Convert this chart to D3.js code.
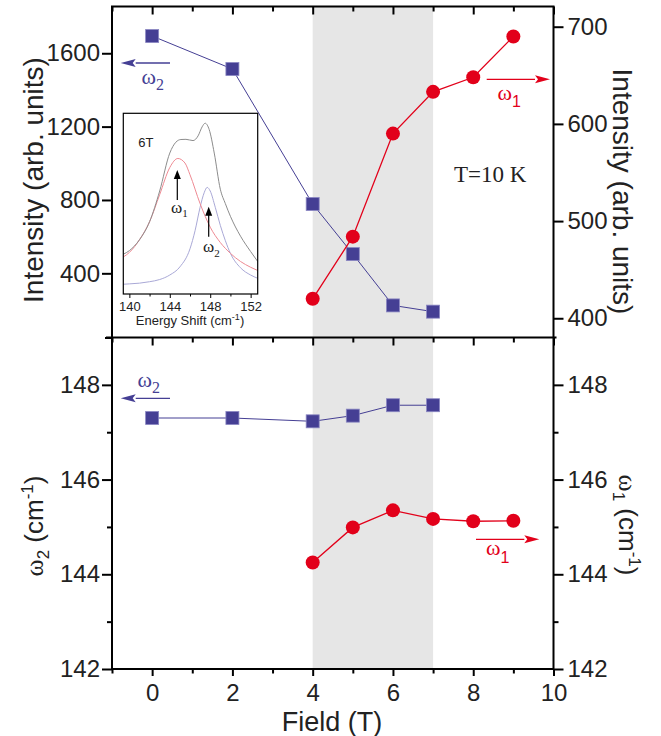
<!DOCTYPE html>
<html>
<head>
<meta charset="utf-8">
<script src="https://cdn.jsdelivr.net/npm/d3@7"></script>
<style>
  html, body { margin: 0; padding: 0; background: #fff; }
  svg { display: block; }
</style>
</head>
<body>
<div id="chart"></div>
<script>
// ---- data ----
const w2Field = [0, 2, 4, 5, 6, 7];
const w2Intensity = [1694, 1514, 778, 505, 225, 191];
const w1Field = [4, 5, 6, 7, 8, 9];
const w1Intensity = [420, 484, 590, 633, 648, 690];
const w2Shift = [147.30, 147.30, 147.23, 147.35, 147.57, 147.57];
const w1Shift = [144.25, 144.99, 145.35, 145.17, 145.12, 145.13];
const shadeRange = [4, 7];

const fieldTicks = [0, 2, 4, 6, 8, 10];
const fieldMinor = [-1, 1, 3, 5, 7, 9];
const intensityLeftTicks = [400, 800, 1200, 1600];
const intensityRightTicks = [400, 500, 600, 700];
const shiftTicks = [142, 144, 146, 148];
const shiftMinor = [143, 145, 147, 149];

// inset: 6 T spectrum (relative height, %)
const insetTicks = [140, 144, 148, 152];
const insetMinor = [142, 146, 150];
const totalX = [139.4, 140, 141, 142, 143, 144, 144.6, 145.1, 145.6, 146.3, 146.8, 147.2, 147.5, 147.9, 148.4, 149, 149.5, 150, 151, 152, 152.7];
const totalY = [22, 24, 30, 40, 57, 78, 84, 85.5, 85.6, 84.9, 87.5, 92.5, 94.5, 91, 78, 58, 50, 43, 32, 23.5, 18];
const fit1X = [139.4, 140, 141, 142, 143, 144, 144.8, 145.5, 146, 147, 148, 149, 150, 151, 152, 152.7];
const fit1Y = [20.5, 23, 30, 40, 55, 70, 75, 72.5, 66, 50, 37, 28.5, 22.5, 18, 14.8, 13];
const fit2X = [139.4, 140, 141, 142, 143, 144, 145, 146, 146.5, 147, 147.4, 147.7, 148, 148.5, 149, 149.5, 150, 151, 152, 152.7];
const fit2Y = [5.4, 5.6, 6, 6.8, 8, 10.5, 15, 25, 35, 48, 56, 59, 57, 48, 38, 29.5, 22.5, 14.5, 10.5, 8.7];

// ---- layout ----
const W = 661, H = 736;
const L = 112, R = 553.5, T = 6.5, M = 337.5, B = 669;
const FONT = '"Liberation Sans", Arial, sans-serif';
const SERIF = '"Liberation Serif", "Times New Roman", serif';
const BLUE = '#453f94';
const RED = '#e2001a';
const fmt = d3.format('d');

const svg = d3.select('#chart').append('svg')
  .attr('width', W)
  .attr('height', H);

const x = d3.scaleLinear().domain([-1, 10]).range([L, R]);
const yTopL = d3.scaleLinear().domain([50, 1855]).range([M, T]);
const yTopR = d3.scaleLinear().domain([380.2, 720.8]).range([M, T]);
const yBot = d3.scaleLinear().domain([142, 149]).range([B, M]);

// shaded field range
svg.append('rect')
  .attr('x', x(shadeRange[0]))
  .attr('y', T)
  .attr('width', x(shadeRange[1]) - x(shadeRange[0]))
  .attr('height', B - T)
  .attr('fill', '#e6e6e6');

function styleAxis(g, size) {
  g.select('.domain').remove();
  g.selectAll('.tick line').attr('stroke', '#000').attr('stroke-width', 2);
  g.selectAll('text')
    .attr('font-size', size)
    .attr('font-family', FONT)
    .attr('fill', '#222');
}

function addAxis(axis, tx, ty, size) {
  const g = svg.append('g').attr('transform', `translate(${tx},${ty})`).call(axis);
  styleAxis(g, size || 24);
  return g;
}

// top edge and middle edge ticks (inward / into bottom panel)
[T, M].forEach(yy => {
  addAxis(d3.axisBottom(x).tickValues(fieldTicks).tickSize(8).tickFormat(''), 0, yy);
  addAxis(d3.axisBottom(x).tickValues(fieldMinor).tickSize(5).tickFormat(''), 0, yy);
});

// bottom x axis
addAxis(d3.axisBottom(x).tickValues(fieldTicks).tickSize(7).tickPadding(8).tickFormat(fmt), 0, B);
addAxis(d3.axisBottom(x).tickValues(fieldMinor).tickSize(4.5).tickFormat(''), 0, B);

// top panel y axes
addAxis(d3.axisLeft(yTopL).tickValues(intensityLeftTicks).tickSize(10).tickPadding(2).tickFormat(fmt), L, 0);
addAxis(d3.axisLeft(yTopL).tickValues([50]).tickSize(7).tickFormat(''), L, 0);
addAxis(d3.axisRight(yTopR).tickValues(intensityRightTicks).tickSize(10).tickPadding(4).tickFormat(fmt), R, 0);

// bottom panel y axes
addAxis(d3.axisLeft(yBot).tickValues(shiftTicks).tickSize(10).tickPadding(2).tickFormat(fmt), L, 0);
addAxis(d3.axisLeft(yBot).tickValues(shiftMinor).tickSize(5).tickFormat(''), L, 0);
addAxis(d3.axisRight(yBot).tickValues(shiftTicks).tickSize(10).tickPadding(4).tickFormat(fmt), R, 0);
addAxis(d3.axisRight(yBot).tickValues(shiftMinor.slice(0, 3)).tickSize(5).tickFormat(''), R, 0);

// frames
svg.append('rect')
  .attr('x', L).attr('y', T)
  .attr('width', R - L).attr('height', B - T)
  .attr('fill', 'none').attr('stroke', '#000').attr('stroke-width', 2);
svg.append('line')
  .attr('x1', L - 6).attr('x2', R + 3)
  .attr('y1', M).attr('y2', M)
  .attr('stroke', '#000').attr('stroke-width', 2);

// ---- series ----
function drawSeries(xs, ys, yScale, color, shape, lw) {
  const pts = xs.map((f, i) => [x(f), yScale(ys[i])]);
  svg.append('path')
    .attr('d', d3.line()(pts))
    .attr('fill', 'none')
    .attr('stroke', color)
    .attr('stroke-width', lw);
  if (shape === 'square') {
    svg.selectAll(null).data(pts).enter().append('rect')
      .attr('x', d => d[0] - 6.5)
      .attr('y', d => d[1] - 6.5)
      .attr('width', 13).attr('height', 13)
      .attr('fill', color)
      .attr('stroke', '#8a87c2').attr('stroke-width', 0.8);
  } else {
    svg.selectAll(null).data(pts).enter().append('circle')
      .attr('cx', d => d[0]).attr('cy', d => d[1])
      .attr('r', 7)
      .attr('fill', color);
  }
}

drawSeries(w2Field, w2Intensity, yTopL, BLUE, 'square', 1);
drawSeries(w1Field, w1Intensity, yTopR, RED, 'circle', 1.3);
drawSeries(w2Field, w2Shift, yBot, BLUE, 'square', 1);
drawSeries(w1Field, w1Shift, yBot, RED, 'circle', 1.3);

// ---- annotations ----
function arrowH(x1, x2, yy, color) {
  const dir = x2 > x1 ? 1 : -1;
  const base = x2 - dir * 15;
  svg.append('line')
    .attr('x1', x1).attr('x2', base).attr('y1', yy).attr('y2', yy)
    .attr('stroke', color).attr('stroke-width', 1.3);
  svg.append('path')
    .attr('d', `M${x2},${yy}L${base},${yy - 4}L${base + dir * 3},${yy}L${base},${yy + 4}Z`)
    .attr('fill', color);
}

function arrowUp(g, xx, y1, y2) {
  g.append('line')
    .attr('x1', xx).attr('x2', xx).attr('y1', y1).attr('y2', y2 + 7)
    .attr('stroke', '#000').attr('stroke-width', 1.2);
  g.append('path')
    .attr('d', `M${xx},${y2}L${xx - 3.5},${y2 + 9}L${xx + 3.5},${y2 + 9}Z`)
    .attr('fill', '#000');
}

function omega(g, px, py, sub, color, size, subSize, subDy, subFont) {
  const t = g.append('text')
    .attr('x', px).attr('y', py)
    .attr('fill', color)
    .attr('font-family', SERIF)
    .attr('font-size', size);
  t.append('tspan').text('ω');
  t.append('tspan')
    .attr('font-size', subSize)
    .attr('font-family', subFont || SERIF)
    .attr('dy', subDy)
    .text(sub);
  return t;
}

arrowH(170, 120.7, 63, BLUE);
omega(svg, 141.5, 83.5, '2', BLUE, 22, 16, 6);
arrowH(486.7, 550, 79.3, RED);
omega(svg, 497.5, 100, '1', RED, 22, 16, 7, FONT);

arrowH(170, 120.7, 398.3, BLUE);
omega(svg, 137.5, 387, '2', BLUE, 22, 16, 6);
arrowH(476, 539.3, 539.3, RED);
omega(svg, 486, 555, '1', RED, 22, 16, 8, FONT);

svg.append('text')
  .attr('x', 454).attr('y', 181.7)
  .attr('font-family', SERIF)
  .attr('font-size', 23)
  .attr('fill', '#222')
  .text('T=10 K');

// ---- axis titles ----
function title(tx, ty, rot, build) {
  const t = svg.append('text')
    .attr('transform', `translate(${tx},${ty}) rotate(${rot})`)
    .attr('text-anchor', 'middle')
    .attr('font-family', FONT)
    .attr('fill', '#222');
  build(t);
  return t;
}

title(43, 180, -90, t => t.attr('font-size', 28).text('Intensity (arb. units)'));
title(613, 191.5, 90, t => t.attr('font-size', 28).text('Intensity (arb. units)'));

function omegaTitle(t, sub) {
  t.attr('font-size', 26);
  t.append('tspan').attr('font-family', SERIF).text('ω');
  t.append('tspan').attr('font-size', 17).attr('dy', 6).text(sub);
  t.append('tspan').attr('dy', -6).text(' (cm');
  t.append('tspan').attr('font-size', 17).attr('dy', -10).text('-1');
  t.append('tspan').attr('dy', 10).text(')');
}
title(43, 526, -90, t => omegaTitle(t, '2'));
title(619, 525, 90, t => omegaTitle(t, '1'));

svg.append('text')
  .attr('x', 332).attr('y', 730.5)
  .attr('text-anchor', 'middle')
  .attr('font-family', FONT)
  .attr('font-size', 27)
  .attr('fill', '#222')
  .text('Field (T)');

// ---- inset ----
const IL = 123.3, IR = 257.7, IT = 113.3, IB = 294;
const xi = d3.scaleLinear().domain([139.4, 152.7]).range([IL, IR]);
const yi = d3.scaleLinear().domain([0, 100]).range([IB, IT]);
const inset = svg.append('g');

inset.append('rect')
  .attr('x', IL).attr('y', IT)
  .attr('width', IR - IL).attr('height', IB - IT)
  .attr('fill', '#fff');

svg.append('defs').append('clipPath').attr('id', 'insetClip')
  .append('rect')
  .attr('x', IL).attr('y', IT)
  .attr('width', IR - IL).attr('height', IB - IT);

const curves = inset.append('g').attr('clip-path', 'url(#insetClip)');
const specLine = d3.line().curve(d3.curveMonotoneX);
[[fit2X, fit2Y, '#a9a8d6'], [fit1X, fit1Y, '#ee8a93'], [totalX, totalY, '#8c8c8c']].forEach(([xs, ys, c]) => {
  curves.append('path')
    .attr('d', specLine(xs.map((v, i) => [xi(v), yi(ys[i])])))
    .attr('fill', 'none')
    .attr('stroke', c)
    .attr('stroke-width', 1);
});

inset.append('rect')
  .attr('x', IL).attr('y', IT)
  .attr('width', IR - IL).attr('height', IB - IT)
  .attr('fill', 'none').attr('stroke', '#000').attr('stroke-width', 1.2);

const ia = inset.append('g').attr('transform', `translate(0,${IB})`)
  .call(d3.axisBottom(xi).tickValues(insetTicks).tickSize(4).tickPadding(4));
ia.select('.domain').remove();
ia.selectAll('.tick line').attr('stroke', '#000');
ia.selectAll('text').attr('font-size', 13).attr('font-family', FONT).attr('fill', '#222');
const im = inset.append('g').attr('transform', `translate(0,${IB})`)
  .call(d3.axisBottom(xi).tickValues(insetMinor).tickSize(2.5).tickFormat(''));
im.select('.domain').remove();
im.selectAll('.tick line').attr('stroke', '#000');

const il = inset.append('text')
  .attr('x', 190).attr('y', 325)
  .attr('text-anchor', 'middle')
  .attr('font-family', FONT)
  .attr('font-size', 13)
  .attr('fill', '#222');
il.append('tspan').text('Energy Shift (cm');
il.append('tspan').attr('font-size', 9).attr('dy', -5).text('-1');
il.append('tspan').attr('dy', 5).text(')');

inset.append('text')
  .attr('x', 138.3).attr('y', 146.7)
  .attr('font-family', FONT)
  .attr('font-size', 13)
  .attr('fill', '#222')
  .text('6T');

arrowUp(inset, 177.3, 200, 170);
omega(inset, 171, 213.3, '1', '#222', 17, 11, 4);
arrowUp(inset, 208.7, 236.7, 206.7);
omega(inset, 203, 251.7, '2', '#222', 17, 11, 5);
</script>
</body>
</html>
